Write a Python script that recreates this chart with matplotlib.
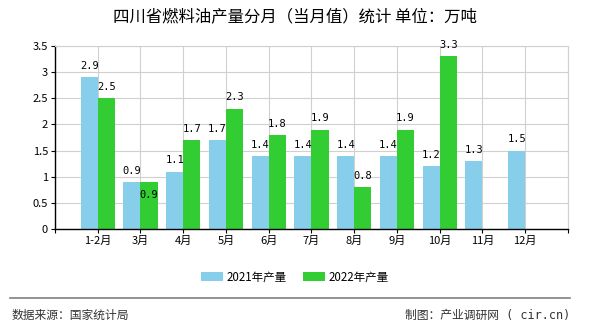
import numpy as np
import matplotlib.pyplot as plt

plt.rcParams['font.family'] = ['Noto Sans CJK SC', 'DejaVu Sans']

months = ['1-2月', '3月', '4月', '5月', '6月', '7月', '8月', '9月', '10月', '11月', '12月']
prod_2021 = [2.9, 0.9, 1.1, 1.7, 1.4, 1.4, 1.4, 1.4, 1.2, 1.3, 1.5]
prod_2022 = [2.5, 0.9, 1.7, 2.3, 1.8, 1.9, 0.8, 1.9, 3.3, np.nan, np.nan]
yticks = [0, 0.5, 1, 1.5, 2, 2.5, 3, 3.5]
ytick_labels = ['0', '0.5', '1', '1.5', '2', '2.5', '3', '3.5']

c21 = '#87CEEB'
c22 = '#32CD32'

fig = plt.figure(figsize=(5.9, 3.3), dpi=100)
ax = fig.add_axes([0.0932, 0.306, 0.8695, 0.5546])

x = np.arange(len(months))
w = 0.4
ax.bar(x - w / 2, prod_2021, w, color=c21, label='2021年产量', zorder=2)
ax.bar(x + w / 2, prod_2022, w, color=c22, label='2022年产量', zorder=2)

mono = ['DejaVu Sans Mono', 'Noto Sans CJK SC']
for xi, v in zip(x - w / 2, prod_2021):
    ax.text(xi, v + 0.12, f'{v:.1f}', ha='center', va='bottom', fontsize=7.5,
            family=mono, zorder=3)
for xi, v, v0 in zip(x + w / 2, prod_2022, prod_2021):
    if np.isnan(v):
        continue
    # the chart pushes a label down when it would collide with its neighbour
    y = v + 0.12 if v != v0 else v - 0.35
    ax.text(xi, y, f'{v:.1f}', ha='center', va='bottom', fontsize=7.5,
            family=mono, zorder=3)

ax.set_xlim(-1, 11)
ax.set_ylim(0, 3.5)
ax.set_xticks(np.arange(-1, 12))
ax.set_xticklabels([''] + months + [''], fontsize=8)
ax.set_yticks(yticks)
ax.set_yticklabels(ytick_labels, fontsize=8)
ax.grid(True, color='#d0d0d0', linewidth=0.8, zorder=0)
ax.tick_params(axis='both', length=3, width=0.8, color='black', pad=2)
for s in ['top', 'right']:
    ax.spines[s].set_color('#d0d0d0')
    ax.spines[s].set_linewidth(0.8)
for s in ['left', 'bottom']:
    ax.spines[s].set_color('black')
    ax.spines[s].set_linewidth(1.0)

fig.text(0.5, 0.948, '四川省燃料油产量分月（当月值）统计 单位：万吨', ha='center', va='center',
         fontsize=11.8)

fig.legend(loc='center', bbox_to_anchor=(0.5, 0.161), ncol=2, frameon=False,
           fontsize=8.3, handlelength=1.9, handleheight=0.8, columnspacing=1.4,
           handletextpad=0.3)

fig.add_artist(plt.Line2D([0.017, 0.966], [0.097, 0.097], color='#808080', linewidth=1.2))
fig.text(0.019, 0.045, '数据来源：国家统计局', ha='left', va='center', fontsize=8.5, color='#333333')
fig.text(0.966, 0.045, '制图：产业调研网 ( cir.cn)', ha='right', va='center', fontsize=8.5,
         color='#333333', family=mono)

fig.savefig('out.png', dpi=100)
